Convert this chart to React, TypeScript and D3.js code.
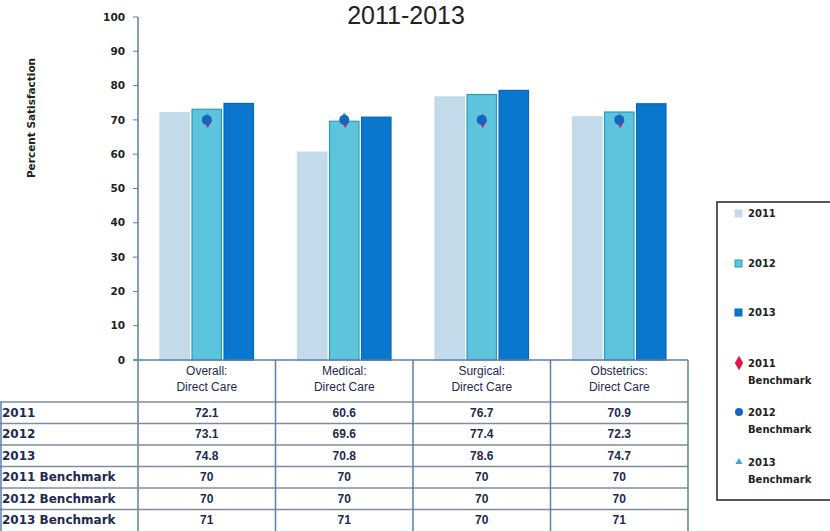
import * as d3 from "d3";

// категории и подписи
const catLine1 = ["Overall:", "Medical:", "Surgical:", "Obstetrics:"];
const catLine2 = ["Direct Care", "Direct Care", "Direct Care", "Direct Care"];
const categories = catLine1.map((c, i) => c + " " + catLine2[i]);

const years = ["2011", "2012", "2013"];
const values2011 = [72.1, 60.6, 76.7, 70.9];
const values2012 = [73.1, 69.6, 77.4, 72.3];
const values2013 = [74.8, 70.8, 78.6, 74.7];
const bench2011 = [70, 70, 70, 70];
const bench2012 = [70, 70, 70, 70];
const bench2013 = [71, 71, 70, 71];

const yTicks = [0, 10, 20, 30, 40, 50, 60, 70, 80, 90, 100];
const rowLabels = ["2011", "2012", "2013", "2011 Benchmark", "2012 Benchmark", "2013 Benchmark"];

const W = 830;
const H = 531;

const barFill = ["#C3DAEA", "#5CC4DC", "#0A77CF"];
const barStroke = ["#C3DAEA", "#2A9CB8", "#0A66B8"];
const benchColor = ["#E3174B", "#1466BE", "#3FA6D6"];

export default function App() {
  // шкалы
  const y = d3.scaleLinear().domain([0, 100]).range([360, 17]);
  const x0 = d3.scaleBand<string>().domain(categories).range([138, 688]).padding(0);
  const step = x0.bandwidth();
  const x1 = d3.scaleBand<string>().domain(years).range([22, step - 22]).paddingInner(0.08);

  const series = [values2011, values2012, values2013];
  const benches = [bench2011, bench2012, bench2013];
  const tableRows = [values2011, values2012, values2013, bench2011, bench2012, bench2013];

  const headTop = y(0);
  const rowTop = 402;
  const rowH = (H - rowTop) / rowLabels.length;
  const tri = d3.symbol().type(d3.symbolTriangle).size(22)();
  const diamond = d3.symbol().type(d3.symbolDiamond).size(60)();

  const legendItems = [
    { l1: "2011", l2: "", kind: "sq", i: 0, y: 217 },
    { l1: "2012", l2: "", kind: "sq", i: 1, y: 267 },
    { l1: "2013", l2: "", kind: "sq", i: 2, y: 316 },
    { l1: "2011", l2: "Benchmark", kind: "dia", i: 0, y: 367 },
    { l1: "2012", l2: "Benchmark", kind: "circ", i: 1, y: 416 },
    { l1: "2013", l2: "Benchmark", kind: "tri", i: 2, y: 466 },
  ];

  return (
    <svg width={W} height={H} style={{ position: "absolute", left: 0, top: 0, background: "#fff" }}>
      {/* заголовок */}
      <text x={406} y={24} textAnchor="middle" fontFamily="Liberation Sans, Arial" fontSize={25} fill="#222">
        2011-2013
      </text>

      {/* подпись оси Y */}
      <text
        transform={`translate(35,118) rotate(-90)`}
        textAnchor="middle"
        fontFamily="DejaVu Sans"
        fontWeight="bold"
        fontSize={10.5}
        fill="#222"
      >
        Percent Satisfaction
      </text>

      {/* ось Y */}
      <line x1={138} x2={138} y1={y(100)} y2={H} stroke="#5A7FA8" strokeWidth={1.5} />
      {yTicks.map((t) => (
        <g key={t}>
          <line x1={133} x2={138} y1={y(t)} y2={y(t)} stroke="#5A7FA8" />
          <text
            x={125}
            y={y(t)}
            dy="0.35em"
            textAnchor="end"
            fontFamily="DejaVu Sans"
            fontWeight="bold"
            fontSize={10.5}
            fill="#222"
          >
            {t}
          </text>
        </g>
      ))}

      {/* столбцы */}
      {categories.map((c, ci) => (
        <g key={c} transform={`translate(${x0(c)},0)`}>
          {years.map((yr, si) => (
            <rect
              key={yr}
              x={x1(yr)}
              y={y(series[si][ci])}
              width={x1.bandwidth()}
              height={y(0) - y(series[si][ci])}
              fill={barFill[si]}
              stroke={barStroke[si]}
              strokeWidth={1.2}
            />
          ))}
          {/* маркеры бенчмарков */}
          <path
            d={diamond}
            transform={`translate(${x1("2012")! + x1.bandwidth() / 2 + 1},${y(benches[0][ci]) + 1})`}
            fill={benchColor[0]}
          />
          <path
            d={tri}
            transform={`translate(${x1("2012")! + x1.bandwidth() / 2},${y(benches[2][ci])})`}
            fill={benchColor[2]}
          />
          <circle
            cx={x1("2012")! + x1.bandwidth() / 2}
            cy={y(benches[1][ci])}
            r={5}
            fill={benchColor[1]}
          />
        </g>
      ))}

      {/* таблица данных */}
      <line x1={133} x2={688} y1={headTop} y2={headTop} stroke="#5A7FA8" strokeWidth={1.5} />
      {categories.map((c, ci) => (
        <g key={c}>
          <text
            x={x0(c)! + step / 2}
            y={headTop + 15}
            textAnchor="middle"
            fontFamily="Liberation Sans, Arial"
            fontSize={12}
            fill="#1E2A50"
          >
            {catLine1[ci]}
          </text>
          <text
            x={x0(c)! + step / 2}
            y={headTop + 31}
            textAnchor="middle"
            fontFamily="Liberation Sans, Arial"
            fontSize={12}
            fill="#1E2A50"
          >
            {catLine2[ci]}
          </text>
        </g>
      ))}
      {rowLabels.map((r, ri) => (
        <g key={r}>
          <line x1={0} x2={688} y1={rowTop + ri * rowH} y2={rowTop + ri * rowH} stroke="#7F8C9C" strokeWidth={1.5} />
          <text
            x={2}
            y={rowTop + ri * rowH + rowH / 2}
            dy="0.35em"
            fontFamily="DejaVu Sans"
            fontWeight="bold"
            fontSize={12}
            fill="#1E2A50"
          >
            {r}
          </text>
          {categories.map((c, ci) => (
            <text
              key={c}
              x={x0(c)! + step / 2}
              y={rowTop + ri * rowH + rowH / 2}
              dy="0.35em"
              textAnchor="middle"
              fontFamily="Liberation Sans, Arial"
              fontWeight="bold"
              fontSize={12}
              fill="#1E2A50"
            >
              {tableRows[ri][ci]}
            </text>
          ))}
        </g>
      ))}
      <line x1={1} x2={1} y1={rowTop} y2={H} stroke="#5A7FA8" strokeWidth={1.5} />
      {categories.map((c) => (
        <line
          key={c}
          x1={x0(c)! + step}
          x2={x0(c)! + step}
          y1={headTop}
          y2={H}
          stroke="#5A7FA8"
          strokeWidth={1.5}
        />
      ))}

      {/* легенда */}
      <rect x={717} y={202} width={130} height={298} fill="#fff" stroke="#222" strokeWidth={1.5} />
      {legendItems.map((it, k) => (
        <g key={k}>
          {it.kind === "sq" && (
            <rect x={735} y={it.y - 7} width={7} height={7} fill={barFill[it.i]} stroke={barStroke[it.i]} />
          )}
          {it.kind === "dia" && <path d={diamond} transform={`translate(739,${it.y - 4})`} fill={benchColor[0]} />}
          {it.kind === "circ" && <circle cx={739} cy={it.y - 4} r={4} fill={benchColor[1]} />}
          {it.kind === "tri" && <path d={tri} transform={`translate(739,${it.y - 4})`} fill={benchColor[2]} />}
          <text x={748} y={it.y} fontFamily="DejaVu Sans" fontWeight="bold" fontSize={10} fill="#222">
            {it.l1}
          </text>
          {it.l2 && (
            <text x={748} y={it.y + 17} fontFamily="DejaVu Sans" fontWeight="bold" fontSize={10} fill="#222">
              {it.l2}
            </text>
          )}
        </g>
      ))}
    </svg>
  );
}
